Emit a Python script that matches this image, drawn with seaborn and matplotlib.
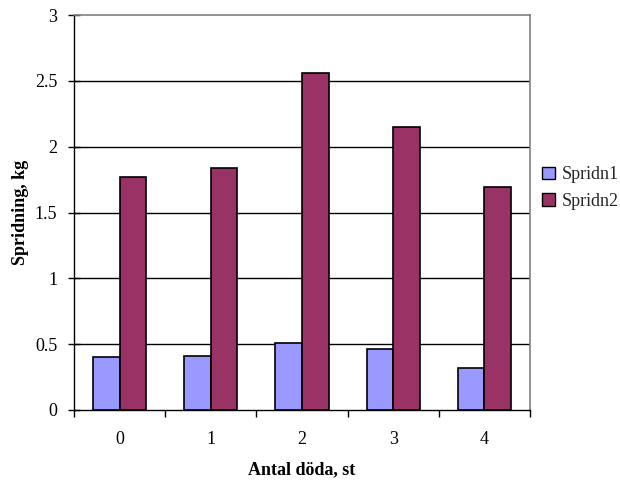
import matplotlib
matplotlib.use("Agg")
import matplotlib.pyplot as plt
import seaborn as sns
import pandas as pd
import numpy as np

# Data
categories = ["0", "1", "2", "3", "4"]
spridn1 = [0.40, 0.41, 0.51, 0.46, 0.32]
spridn2 = [1.77, 1.84, 2.56, 2.15, 1.69]
series_names = ["Spridn1", "Spridn2"]
y_ticks = [0, 0.5, 1, 1.5, 2, 2.5, 3]

df = pd.DataFrame({
    "Antal": categories * 2,
    "Serie": [series_names[0]] * len(categories) + [series_names[1]] * len(categories),
    "Spridning": spridn1 + spridn2,
})

sns.set_theme(style="white")
plt.rcParams["font.family"] = ["Liberation Serif", "DejaVu Serif"]

fig = plt.figure(figsize=(6.2, 4.83), dpi=100)
ax = fig.add_axes([74 / 620, 1 - 410 / 483, (530 - 74) / 620, (410 - 15) / 483])

palette = {"Spridn1": "#9999FF", "Spridn2": "#993366"}
sns.barplot(data=df, x="Antal", y="Spridning", hue="Serie", order=categories,
            hue_order=series_names, palette=palette, width=0.585, gap=0,
            edgecolor="black", linewidth=1.2, saturation=1, ax=ax, legend=True,
            zorder=3)

ax.set_xlim(-0.5, len(categories) - 0.5)
ax.set_ylim(0, 3)
ax.set_yticks(y_ticks)
ax.set_yticklabels([f"{t:g}" for t in y_ticks])

# horizontal gridlines
for t in y_ticks[1:-1]:
    ax.axhline(t, color="black", lw=1.0, zorder=1)

# spines
for side in ["top", "right"]:
    ax.spines[side].set_visible(True)
    ax.spines[side].set_color("#808080")
    ax.spines[side].set_linewidth(1.2)
for side in ["left", "bottom"]:
    ax.spines[side].set_color("black")
    ax.spines[side].set_linewidth(1.0)

# ticks: y crossing, x boundaries as minor ticks
ax.tick_params(axis="y", which="major", direction="inout", length=8, width=1,
               color="black", left=True, labelsize=13, pad=8, labelcolor="black")
ax.set_xticks(np.arange(-0.5, len(categories)), minor=True)
ax.tick_params(axis="x", which="major", length=0, labelsize=13, pad=15, labelcolor="black")
ax.tick_params(axis="x", which="minor", direction="out", length=5, width=1,
               color="black", bottom=True)

ax.set_xlabel("Antal döda, st", fontsize=13, fontweight="bold", labelpad=10, color="black")
ax.set_ylabel("Spridning, kg", fontsize=13, fontweight="bold", labelpad=4, color="black")

leg = ax.legend(loc="center left", bbox_to_anchor=(535 / 620, 1 - 188 / 483),
                bbox_transform=fig.transFigure, frameon=False, fontsize=13,
                handlelength=0.7, handleheight=0.7, handletextpad=0.4,
                labelspacing=0.5, borderaxespad=0)
for h in leg.legend_handles:
    h.set_edgecolor("black")
    h.set_linewidth(1.0)

fig.savefig("out.png", dpi=100)
